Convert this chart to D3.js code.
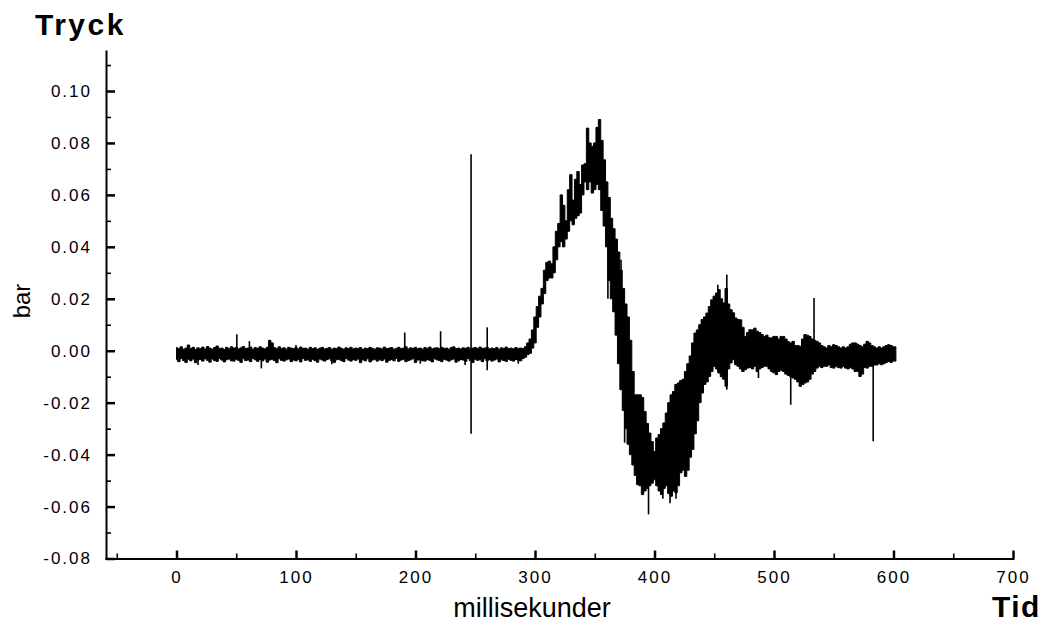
<!DOCTYPE html>
<html>
<head>
<meta charset="utf-8">
<script src="https://cdn.jsdelivr.net/npm/d3@7"></script>
<style>
  body { margin: 0; background: #fff; }
  svg { display: block; }
  text { font-family: "Liberation Sans", Arial, Helvetica, sans-serif; fill: #000; }
</style>
</head>
<body>
<svg id="chart" width="1045" height="630"></svg>
<script>
// Pressure trace, sampled every 2 ms from 0 to 602 ms.
// Each sample holds the upper and lower envelope of the signal in mbar.
const sampleMs = 2;

const hiMbar = [
  1.2, 0.8, 1.5, 0.6, 1.0, 2.2, 0.9, 1.3, 0.5, 1.1,
  0.8, 1.4, 0.7, 1.6, 1.0, 0.6, 1.2, 1.8, 0.9, 1.0,
  0.5, 1.3, 0.8, 1.5, 1.0, 1.2, 0.7, 1.1, 1.6, 0.9,
  1.0, 1.4, 0.6, 1.2, 0.9, 1.5, 1.0, 0.7, 1.3, 4.0,
  3.0, 1.2, 0.8, 1.5, 0.9, 1.1, 0.6, 1.3, 1.0, 0.8,
  1.2, 0.7, 1.4, 0.9, 1.0, 0.6, 1.3, 0.8, 1.1, 0.5,
  1.0, 1.3, 0.7, 0.9, 1.2, 0.6, 1.0, 0.8, 1.4, 0.9,
  0.6, 1.1, 0.8, 1.3, 0.7, 1.0, 0.9, 1.2, 0.5, 1.0,
  0.8, 1.3, 0.9, 0.6, 1.1, 1.0, 0.7, 1.4, 0.8, 1.0,
  1.2, 0.6, 0.9, 1.3, 0.8, 1.0, 1.5, 0.7, 1.1, 0.9,
  1.3, 0.8, 1.0, 0.6, 1.2, 0.9, 1.4, 0.7, 1.0, 1.1,
  0.8, 1.3, 0.9, 1.0, 0.6, 1.2, 1.5, 0.8, 1.0, 0.7,
  1.1, 0.9, 1.3, 0.6, 1.0, 1.2, 0.8, 1.4, 0.9, 1.0,
  1.3, 0.7, 1.0, 0.8, 1.2, 0.6, 1.1, 0.9, 1.4, 0.8,
  1.0, 0.7, 1.2, 0.9, 1.0, 0.8,
  // 292 ms: rise of the pressure wave
  1.5, 3.0, 4.5, 8.0, 13.0, 17.0, 21.0, 24.0, 31.0, 34.0,
  34.5, 33.5, 40.0, 46.0, 49.0, 60.0, 56.0, 50.0, 62.0, 67.8,
  58.0, 66.0, 69.0, 64.0, 71.5, 72.0, 85.7, 80.0, 78.7, 80.0,
  86.0, 89.0, 81.0, 73.5, 65.0, 59.0, 51.0, 47.0, 43.0, 38.0,
  31.0, 24.0, 18.0, 13.0, 4.0, -8.0, -17.0, -17.0, -17.0, -18.0,
  -23.4, -28.0, -31.7, -35.0, -38.8, -33.6, -32.3, -30.0, -27.8, -24.0,
  -20.0, -17.0, -15.7, -13.0, -12.4, -11.5, -11.0, -8.0, -5.0, -2.0,
  3.0, 6.8, 8.0, 10.0, 12.0, 13.0, 14.5, 17.0, 19.6, 21.0,
  22.2, 23.5, 20.0, 18.4, 24.0, 18.0, 15.8, 14.6, 12.6, 12.0,
  11.9, 9.0, 5.5, 7.0, 8.1, 8.0, 8.7, 7.5, 7.0, 6.2,
  5.5, 6.0, 5.0, 4.9, 5.5, 5.5, 4.5, 5.5, 5.5, 4.5,
  3.5, 3.0, 3.6, 2.0, 2.0, 1.7, 4.5, 6.2, 6.0, 5.5,
  4.5, 4.0, 3.6, 3.0, 2.0, 1.5, 1.0, 2.0, 1.5, 2.3,
  2.0, 1.5, 1.0, 1.5, 1.0, 1.5, 2.5, 3.0, 3.0, 2.5,
  2.0, 1.5, 2.5, 3.6, 3.0, 2.0, 1.5, 1.0, 1.5, 1.0,
  1.5, 2.0, 2.3, 2.0, 1.5, 1.5
];

const loMbar = [
  -3.5, -4.2, -3.0, -3.8, -4.5, -3.3, -3.9, -3.2, -4.6, -3.6,
  -3.4, -4.0, -3.1, -3.7, -4.4, -3.2, -3.8, -4.1, -3.0, -3.6,
  -4.3, -3.5, -3.2, -3.9, -4.0, -3.3, -3.7, -4.5, -3.1, -3.8,
  -3.6, -4.2, -3.0, -3.5, -4.1, -3.4, -3.9, -3.2, -4.4, -3.6,
  -3.3, -3.8, -4.6, -3.1, -3.7, -4.0, -3.5, -3.2, -4.2, -3.6,
  -3.9, -3.4, -4.3, -3.0, -3.7, -3.5, -4.1, -3.3, -3.8, -4.4,
  -3.2, -3.6, -4.0, -3.4, -3.1, -3.9, -4.5, -3.5, -3.3, -3.8,
  -4.2, -3.0, -3.6, -4.0, -3.4, -3.7, -3.2, -4.6, -3.5, -3.9,
  -3.1, -4.3, -3.6, -3.3, -4.0, -3.5, -3.8, -3.2, -4.4, -3.7,
  -3.4, -3.9, -3.0, -4.1, -3.6, -3.3, -4.2, -3.8, -3.5, -3.1,
  -4.5, -3.6, -3.2, -3.9, -4.0, -3.4, -3.7, -4.3, -3.1, -3.5,
  -3.8, -4.2, -3.3, -3.6, -4.0, -3.5, -3.2, -4.4, -3.9, -3.4,
  -3.6, -4.1, -3.0, -3.8, -4.5, -3.3, -3.7, -3.5, -4.2, -3.1,
  -3.9, -3.4, -4.0, -3.6, -3.2, -4.3, -3.5, -3.8, -4.1, -3.3,
  -3.7, -4.0, -3.4, -3.6, -3.9, -3.0,
  // 292 ms onwards
  -2.5, -1.5, -1.0, 1.0, 3.0, 9.0, 13.0, 18.0, 22.0, 27.0,
  28.0, 28.0, 30.0, 35.0, 40.0, 42.0, 40.0, 43.0, 46.0, 50.0,
  48.5, 51.0, 52.0, 53.0, 60.0, 65.0, 62.0, 65.0, 60.7, 62.0,
  64.0, 62.0, 54.0, 48.0, 40.0, 27.0, 20.0, 15.0, 6.0, -5.0,
  -15.0, -23.0, -30.0, -36.0, -40.0, -44.0, -48.0, -51.6, -52.0, -55.4,
  -54.0, -53.0, -52.0, -51.0, -49.7, -52.0, -54.0, -55.4, -53.0, -52.0,
  -55.0, -56.0, -54.0, -54.7, -52.0, -47.0, -46.0, -48.4, -46.0, -41.0,
  -38.0, -32.0, -27.0, -20.0, -16.3, -13.0, -12.0, -9.9, -8.0, -6.0,
  -7.0, -8.6, -10.0, -11.0, -13.7, -7.0, -4.7, -3.5, -5.4, -6.0,
  -7.0, -8.0, -7.3, -6.7, -6.5, -7.0, -6.0, -8.0, -7.0, -6.5,
  -6.0, -6.0, -7.0, -8.0, -8.5, -9.2, -8.0, -7.5, -8.0, -9.0,
  -9.5, -9.9, -10.5, -11.0, -12.0, -13.7, -13.0, -12.4, -12.0, -11.0,
  -9.0, -8.0, -6.7, -6.0, -6.5, -6.0, -6.0, -5.5, -6.5, -6.7,
  -6.0, -6.5, -6.7, -6.0, -6.7, -7.0, -6.5, -7.0, -8.0, -8.0,
  -9.9, -9.0, -6.5, -6.7, -6.0, -6.0, -5.5, -5.5, -5.0, -5.4,
  -5.0, -4.5, -4.1, -4.5, -4.0, -4.0
];

// Single-sample spikes: [time ms, low mbar, high mbar]
const spikes = [
  [18, -5.5, 0], [50.5, -3, 6.3], [61, -3, 3.7], [71, -6.8, 0],
  [100, -3, 2.2], [130, -5.2, 0], [191, -3, 7], [204, -5, 0],
  [221, -3, 7.5], [241.5, -5.5, 0], [246.5, -32, 75.6], [260, -7.5, 9],
  [286, -5, 0], [361, 20, 59], [372, -15, 35], [375, -35.4, -20],
  [395, -63, -45], [407, -57, -45], [413, -58.7, -45], [418, -57, -45],
  [453, -8, 25.4], [460.5, -15, 29.3], [487, -10.5, 0], [514, -20.8, 0],
  [533.5, 0, 20.3], [583, -34.9, 0]
];

const xTicks = [0, 100, 200, 300, 400, 500, 600, 700];
const xMinorTicks = [-50, 50, 150, 250, 350, 450, 550, 650];
const yTicks = [-0.08, -0.06, -0.04, -0.02, 0.00, 0.02, 0.04, 0.06, 0.08, 0.10];
const yMinorTicks = [-0.07, -0.05, -0.03, -0.01, 0.01, 0.03, 0.05, 0.07, 0.09, 0.11];

const samples = hiMbar.map((h, i) => ({ t: i * sampleMs, hi: h / 1000, lo: loMbar[i] / 1000 }));

const svg = d3.select("#chart");
const x = d3.scaleLinear().domain([-59, 700]).range([106, 1013]);
const y = d3.scaleLinear().domain([-0.08, 0.1154]).range([558.5, 51]);

// signal envelope
const band = d3.area()
  .x(d => x(d.t))
  .y0(d => y(d.lo))
  .y1(d => y(d.hi))
  .curve(d3.curveStep);

svg.append("path")
  .datum(samples)
  .attr("d", band)
  .attr("fill", "#000")
  .attr("stroke", "#000")
  .attr("stroke-width", 1);

svg.append("g").selectAll("line")
  .data(spikes)
  .join("line")
  .attr("x1", d => x(d[0])).attr("x2", d => x(d[0]))
  .attr("y1", d => y(d[1] / 1000)).attr("y2", d => y(d[2] / 1000))
  .attr("stroke", "#000")
  .attr("stroke-width", 1.6);

// axes
const xAxisG = svg.append("g").attr("transform", `translate(0,${y.range()[0]})`);
xAxisG.call(d3.axisBottom(x).tickValues(xMinorTicks).tickSizeInner(-5).tickSizeOuter(0).tickFormat(""))
  .call(g => g.select(".domain").remove())
  .call(g => g.selectAll(".tick line").attr("stroke-width", 1.6));
const xMajor = svg.append("g").attr("transform", `translate(0,${y.range()[0]})`)
  .call(d3.axisBottom(x).tickValues(xTicks).tickSizeInner(-8).tickSizeOuter(0).tickPadding(12).tickFormat(d3.format("d")));
xMajor.select(".domain").attr("stroke-width", 2).attr("stroke-linecap", "square");
xMajor.selectAll(".tick line").attr("stroke-width", 2.5);
xMajor.selectAll(".tick text")
  .attr("font-size", 17).attr("letter-spacing", "2px")
  .attr("font-family", "'Liberation Sans', Arial, sans-serif");

const yAxisG = svg.append("g").attr("transform", `translate(${x.range()[0]},0)`);
yAxisG.call(d3.axisLeft(y).tickValues(yMinorTicks).tickSizeInner(-5).tickSizeOuter(0).tickFormat(""))
  .call(g => g.select(".domain").remove())
  .call(g => g.selectAll(".tick line").attr("stroke-width", 1.6));
const yMajor = svg.append("g").attr("transform", `translate(${x.range()[0]},0)`)
  .call(d3.axisLeft(y).tickValues(yTicks).tickSizeInner(-9).tickSizeOuter(0).tickPadding(14).tickFormat(d => d.toFixed(2)));
yMajor.select(".domain").attr("stroke-width", 2).attr("stroke-linecap", "square");
yMajor.selectAll(".tick line").attr("stroke-width", 2.5);
yMajor.selectAll(".tick text")
  .attr("font-size", 17).attr("letter-spacing", "2px")
  .attr("font-family", "'Liberation Sans', Arial, sans-serif");

// titles
svg.append("text").attr("x", 35).attr("y", 35)
  .attr("font-size", 30).attr("font-weight", "bold").attr("letter-spacing", "2.5px")
  .text("Tryck");
svg.append("text").attr("x", 992).attr("y", 617)
  .attr("font-size", 30).attr("font-weight", "bold").attr("letter-spacing", "1.5px")
  .text("Tid");
svg.append("text").attr("x", 532).attr("y", 617).attr("text-anchor", "middle")
  .attr("font-size", 27)
  .text("millisekunder");
svg.append("text").attr("transform", "translate(30,301) rotate(-90)").attr("text-anchor", "middle")
  .attr("font-size", 24)
  .text("bar");
</script>
</body>
</html>
